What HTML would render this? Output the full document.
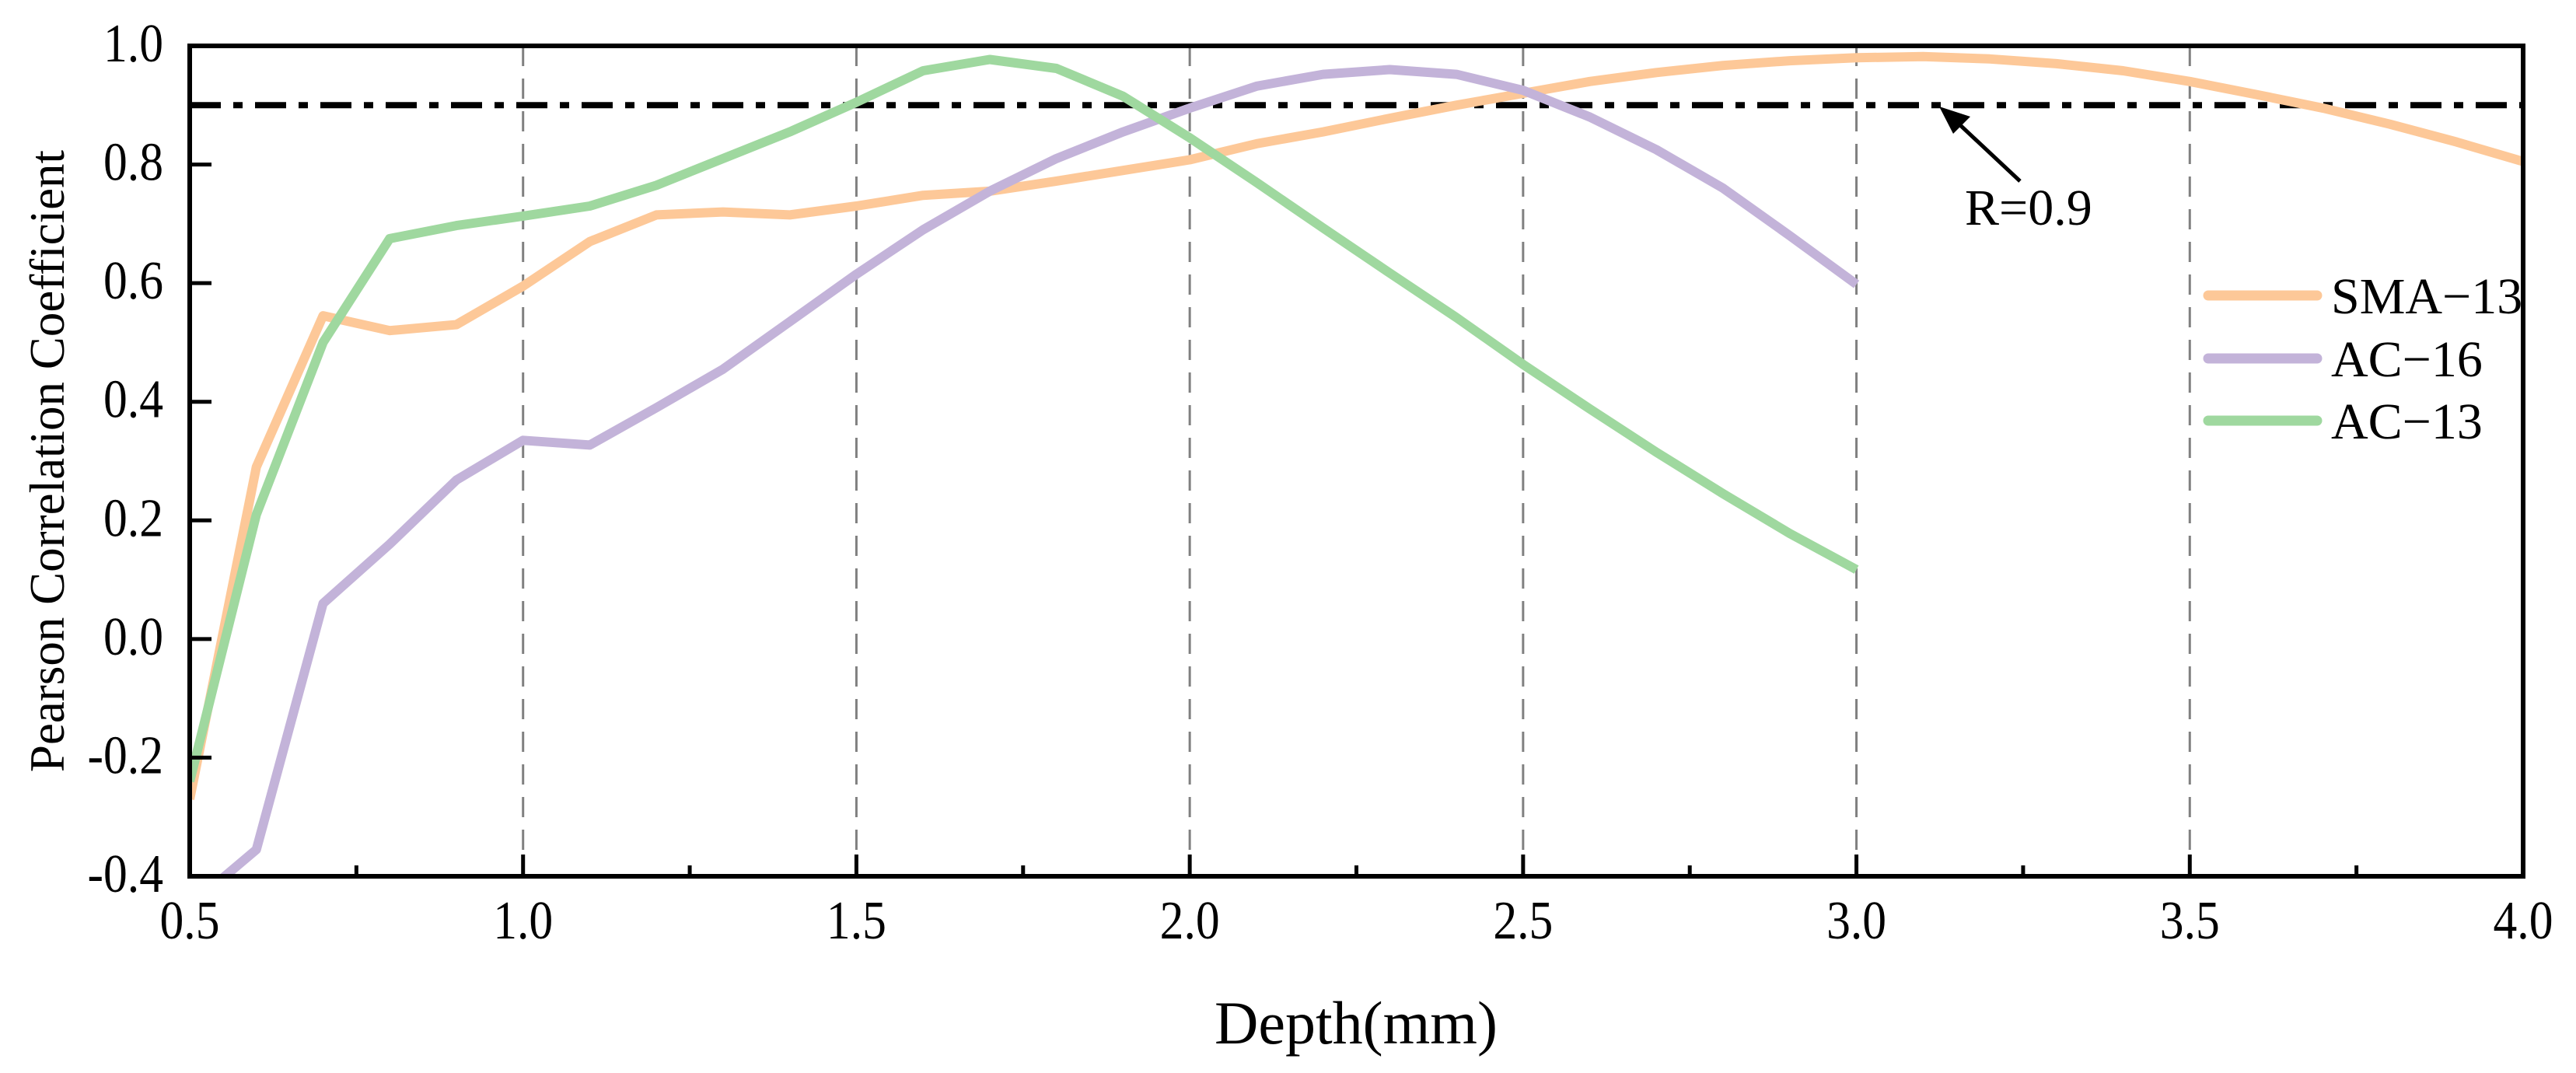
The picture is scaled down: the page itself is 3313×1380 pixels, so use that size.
<!DOCTYPE html>
<html><head><meta charset="utf-8">
<style>
html,body{margin:0;padding:0;background:#fff;}
svg{display:block;font-family:"Liberation Serif","Times New Roman",serif;}
</style></head>
<body>
<svg id="chart" width="3313" height="1380" viewBox="0 0 3313 1380" xmlns="http://www.w3.org/2000/svg">
<defs><clipPath id="plotclip"><rect x="244" y="59" width="3001" height="1068"/></clipPath></defs>
<g id="grid"></g>
<g id="series" clip-path="url(#plotclip)"></g>
<g id="axes"></g>
<g id="legend"></g>
</svg>
<script>
const xTicks = [0.5,1.0,1.5,2.0,2.5,3.0,3.5,4.0];
const xTickLabels = ["0.5","1.0","1.5","2.0","2.5","3.0","3.5","4.0"];
const yTicks = [-0.4,-0.2,0.0,0.2,0.4,0.6,0.8,1.0];
const yTickLabels = ["-0.4","-0.2","0.0","0.2","0.4","0.6","0.8","1.0"];
const depthSMA13 = [0.5,0.6,0.7,0.8,0.9,1.0,1.1,1.2,1.3,1.4,1.5,1.6,1.7,1.8,1.9,2.0,2.1,2.2,2.3,2.4,2.5,2.6,2.7,2.8,2.9,3.0,3.1,3.2,3.3,3.4,3.5,3.6,3.7,3.8,3.9,4.0];
const valuesSMA13 = [-0.27,0.29,0.545,0.52,0.53,0.595,0.67,0.715,0.72,0.715,0.73,0.748,0.755,0.772,0.79,0.808,0.835,0.855,0.878,0.9,0.92,0.94,0.955,0.967,0.975,0.98,0.982,0.978,0.97,0.958,0.94,0.918,0.895,0.868,0.838,0.805];
const depthAC = [0.5,0.6,0.7,0.8,0.9,1.0,1.1,1.2,1.3,1.4,1.5,1.6,1.7,1.8,1.9,2.0,2.1,2.2,2.3,2.4,2.5,2.6,2.7,2.8,2.9,3.0];
const valuesAC16 = [-0.45,-0.355,0.06,0.16,0.268,0.335,0.327,0.39,0.455,0.535,0.615,0.69,0.755,0.81,0.855,0.895,0.932,0.952,0.96,0.952,0.925,0.88,0.825,0.76,0.68,0.598];
const valuesAC13 = [-0.24,0.21,0.5,0.675,0.697,0.713,0.73,0.765,0.81,0.855,0.905,0.958,0.977,0.962,0.915,0.845,0.77,0.693,0.617,0.542,0.463,0.388,0.315,0.245,0.178,0.117];
const threshold = 0.9;

const L=244,R=3245,T=59,B=1127;
const xMin=0.5,xMax=4.0,yMin=-0.4,yMax=1.0;
function X(v){return L+(v-xMin)/(xMax-xMin)*(R-L);}
function Y(v){return B-(v-yMin)/(yMax-yMin)*(B-T);}
const NS="http://www.w3.org/2000/svg";
function mk(tag,attrs,parent){const e=document.createElementNS(NS,tag);for(const k in attrs)e.setAttribute(k,attrs[k]);parent.appendChild(e);return e;}
const grid=document.getElementById('grid'),series=document.getElementById('series'),axes=document.getElementById('axes'),legend=document.getElementById('legend');

xTicks.forEach((v,i)=>{ if(i===0||i===xTicks.length-1)return;
  const g=mk('line',{x1:X(v),x2:X(v),y1:T,y2:B,stroke:'#808080','stroke-width':3,'stroke-dasharray':'26,16'},grid);
  
  
});
const th=mk('line',{x1:L,x2:R,y1:Y(threshold),y2:Y(threshold),stroke:'#000','stroke-width':8,'stroke-dasharray':'40,16,12,16'},grid);



function drawSeries(xs,ys,color,name){
  const pts=xs.map((x,i)=>X(x).toFixed(1)+','+Y(ys[i]).toFixed(1)).join(' ');
  const p=mk('polyline',{points:pts,fill:'none',stroke:color,'stroke-width':12,'stroke-linejoin':'round'},series);
  
  
}
drawSeries(depthSMA13,valuesSMA13,'#FDC898','series-sma-13');
drawSeries(depthAC,valuesAC16,'#C3B3D9','series-ac-16');
drawSeries(depthAC,valuesAC13,'#9FD89F','series-ac-13');

const fr=mk('rect',{x:L,y:T,width:R-L,height:B-T,fill:'none',stroke:'#000','stroke-width':6},axes);


xTicks.forEach((v,i)=>{
  const t=mk('line',{x1:X(v),x2:X(v),y1:B,y2:B-28,stroke:'#000','stroke-width':5},axes);
  
  
  const lb=mk('text',{x:0,y:0,'text-anchor':'middle','font-size':70,fill:'#000',transform:'translate('+X(v)+',1207) scale(0.88,1)'},axes);
  lb.textContent=xTickLabels[i];
  
  
  if(i<xTicks.length-1){
    const m=mk('line',{x1:X(v+0.25),x2:X(v+0.25),y1:B,y2:B-14,stroke:'#000','stroke-width':5},axes);
    
    
  }
});
yTicks.forEach((v,i)=>{
  const t=mk('line',{x1:L,x2:L+28,y1:Y(v),y2:Y(v),stroke:'#000','stroke-width':5},axes);
  
  
  const lb=mk('text',{x:0,y:0,'text-anchor':'end','font-size':70,fill:'#000',transform:'translate(210,'+(Y(v)+20)+') scale(0.88,1)'},axes);
  lb.textContent=yTickLabels[i];
  
  
});
const xt=mk('text',{x:1744,y:1342,'text-anchor':'middle','font-size':78,fill:'#000'},axes);
xt.textContent='Depth(mm)';


const yt=mk('text',{x:0,y:0,'text-anchor':'middle','font-size':63,fill:'#000',transform:'translate(82,593) rotate(-90)'},axes);
yt.textContent='Pearson Correlation Coefficient';


const ar=mk('line',{x1:2598,y1:233,x2:2520,y2:160,stroke:'#000','stroke-width':5},axes);


const ah=mk('polygon',{points:'2494,137 2534,150 2512,172',fill:'#000'},axes);


const at=mk('text',{x:2527,y:289,'font-size':66,fill:'#000'},axes);
at.textContent='R=0.9';


const legNames=['SMA\u221213','AC\u221216','AC\u221213'];
const legColors=['#FDC898','#C3B3D9','#9FD89F'];
const legY=[380,461,541];
legNames.forEach((n,i)=>{
  const l=mk('line',{x1:2840,x2:2980,y1:legY[i],y2:legY[i],stroke:legColors[i],'stroke-width':13,'stroke-linecap':'round'},legend);
  
  
  const t=mk('text',{x:2998,y:legY[i]+23,'font-size':66,fill:'#000'},legend);
  t.textContent=n;
  
  
});
</script>
</body></html>
